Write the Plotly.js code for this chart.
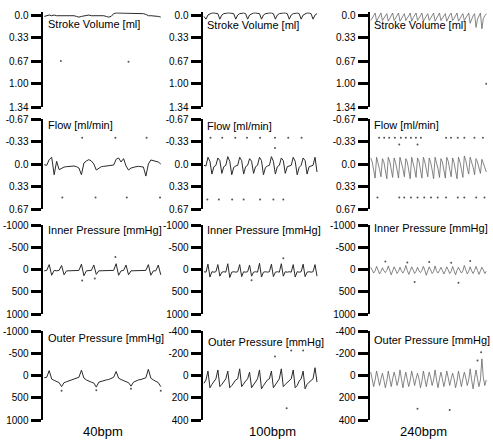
<!DOCTYPE html>
<html><head><meta charset="utf-8">
<script src="https://cdn.plot.ly/plotly-3.0.1.min.js"></script>
<style>html,body{margin:0;padding:0;background:#fff}#chart{width:493px;height:441px}</style>
</head><body><div id="chart"></div>
<script>
// ---------- labels ----------
const rowTitles = ['Stroke Volume [ml]', 'Flow [ml/min]', 'Inner Pressure [mmHg]', 'Outer Pressure [mmHg]'];
const colLabels = ['40bpm', '100bpm', '240bpm'];

// ---------- tick values / labels ----------
const svTickVals = [0, 0.33, 0.67, 1.00, 1.34];
const svTickText = ['0.0', '0.33', '0.67', '1.00', '1.34'];
const flowTickVals = [-0.67, -0.33, 0, 0.33, 0.67];
const flowTickText = ['-0.67', '-0.33', '0.0', '0.33', '0.67'];
const p1000TickVals = [-1000, -500, 0, 500, 1000];
const p1000TickText = ['-1000', '-500', '0', '500', '1000'];
const p400TickVals = [-400, -200, 0, 200, 400];
const p400TickText = ['-400', '-200', '0', '200', '400'];

// ---------- 40 bpm ----------
const sv40 = [0.02,0.01,0.0,0.01,0.0,0.01,0.01,0.0,0.01,0.01,0.0,0.01,0.01,0.02,0.03,0.02,0.01,0.01,0.0,0.01,0.01,0.0,0.01,0.01,0.01,0.02,0.03,0.02,-0.02,-0.03,-0.03,-0.02,-0.03,-0.03,-0.02,-0.03,-0.03,-0.02,-0.03,-0.03,-0.02,-0.01,0.01,0.01,0.01,0.01,0.02,0.03];
const flow40 = [0.01,0.02,-0.065,-0.1,0.16,-0.04,0.085,0.06,0.045,0.04,0.035,0.03,0.03,0.04,0.06,0.16,-0.015,-0.045,-0.065,-0.045,0.0,0.09,0.06,0.04,0.035,0.03,0.03,0.03,0.015,-0.07,-0.09,-0.03,-0.08,0.03,0.09,0.06,0.045,0.04,0.035,0.035,0.045,0.18,0.0,-0.06,-0.05,-0.045,-0.03,0.0];
const inner40 = [30,20,-110,130,20,30,20,-90,120,30,30,30,30,30,20,-120,140,30,30,20,-100,110,30,30,30,30,30,30,20,-130,130,30,20,-100,120,30,30,30,30,30,30,20,-110,130,30,30,-100,120];
const outer40 = [50,40,-110,80,110,140,160,250,160,140,120,100,90,70,40,-120,60,100,130,150,170,260,150,130,110,100,90,70,40,-90,60,90,120,140,160,240,150,120,100,90,70,50,-140,60,100,130,160,250];

const sv40StrayX = [6.7, 34];
const sv40StrayY = [0.67, 0.68];
const flow40StrayX = [15.3, 28.7, 41.3, 7.3, 20.7, 33.3, 46.7];
const flow40StrayY = [-0.39, -0.39, -0.39, 0.5, 0.5, 0.5, 0.5];
const inner40StrayX = [28.7, 15.3, 20.4];
const inner40StrayY = [-280, 250, 200];
const outer40StrayX = [7, 21, 35, 47];
const outer40StrayY = [340, 330, 300, 340];

// ---------- 100 bpm ----------
const sv100 = [0.02,0.06,0.0,-0.02,-0.03,-0.03,-0.03,-0.02,0.06,0.0,-0.02,-0.03,-0.03,-0.03,-0.03,-0.02,0.06,0.0,-0.02,-0.03,-0.03,-0.02,0.06,0.0,-0.02,-0.03,-0.03,-0.03,-0.02,0.06,0.0,-0.02,-0.03,-0.03,-0.03,-0.02,0.06,0.0,-0.02,-0.03,-0.03,-0.03,-0.02,0.06,0.0,-0.02,-0.03,-0.03,-0.02,0.06,0.0,-0.02,-0.03,-0.03,-0.02,0.06,0.0,-0.02];
const flow100 = [0.02,0.03,-0.1,-0.04,0.15,0.04,0.02,-0.09,-0.05,0.14,0.04,0.02,-0.11,-0.04,0.16,0.05,0.03,0.02,-0.1,-0.05,0.15,0.04,0.02,-0.08,-0.04,0.14,0.04,0.02,-0.1,-0.05,0.16,0.05,0.03,0.02,-0.11,-0.04,0.15,0.04,0.02,-0.09,-0.05,0.14,0.04,0.03,0.02,-0.1,-0.04,0.16,0.05,0.02,-0.09,-0.05,0.15,0.04,0.03,0.02,-0.1,0.12];
const inner100 = [50,60,-120,170,50,60,50,-110,150,60,50,60,-130,180,60,50,60,50,-110,160,50,60,50,-100,150,60,50,60,-140,170,60,50,60,50,-120,160,60,50,60,-130,150,50,60,50,60,-110,170,50,60,50,-120,160,60,50,60,50,-110,150];
const outer100 = [70,40,-40,110,80,50,30,-50,100,80,50,30,-40,110,90,60,40,30,-60,100,70,50,30,-30,110,80,50,30,-50,120,90,60,40,30,-40,110,80,50,30,-60,100,80,60,40,30,-50,110,90,50,30,-40,120,80,60,40,30,-70,60];

const sv100StrayX = [];
const sv100StrayY = [];
const flow100StrayX = [3.3, 9.2, 15.8, 21.7, 28.3, 35.8, 42.5, 49.2, 1.7, 7.5, 14.2, 20, 28.3, 35, 40, 35.8];
const flow100StrayY = [-0.39, -0.39, -0.39, -0.39, -0.39, -0.39, -0.39, -0.39, 0.53, 0.53, 0.53, 0.53, 0.53, 0.53, 0.53, -0.24];
const inner100StrayX = [24, 40];
const inner100StrayY = [240, -250];
const outer100StrayX = [41.7, 44, 50, 35.8];
const outer100StrayY = [295, -225, -225, -170];

// ---------- 240 bpm ----------
const sv240 = [0.08,0.05,0.01,-0.03,0.09,0.05,0.0,-0.03,0.08,0.04,0.01,-0.02,0.09,0.05,0.01,-0.03,0.08,0.04,0.0,-0.03,0.09,0.05,0.01,-0.02,0.08,0.05,0.01,-0.03,0.09,0.04,0.0,-0.03,0.08,0.05,0.01,-0.03,0.09,0.05,0.01,-0.02,0.08,0.04,0.0,-0.03,0.09,0.05,0.01,-0.03,0.08,0.05,0.01,-0.02,0.09,0.04,0.0,-0.03,0.08,0.05,0.01,-0.03,0.09,0.05,0.01,-0.02,0.08,0.04,0.0,-0.03,0.12,0.05,0.01,-0.02,0.18,0.06,0.0,-0.03,0.2,0.05,0.01,-0.02];
const flow240 = [-0.09,-0.03,0.09,0.21,-0.1,-0.02,0.08,0.19,-0.08,-0.03,0.1,0.22,-0.1,-0.04,0.08,0.2,-0.09,-0.02,0.09,0.21,-0.1,-0.03,0.07,0.19,-0.08,-0.03,0.09,0.22,-0.1,-0.02,0.08,0.2,-0.09,-0.04,0.1,0.21,-0.1,-0.03,0.08,0.19,-0.09,-0.02,0.09,0.22,-0.1,-0.03,0.07,0.2,-0.08,-0.03,0.09,0.21,-0.1,-0.04,0.08,0.19,-0.09,-0.02,0.1,0.22,-0.1,-0.03,0.08,0.2,-0.12,-0.05,0.06,0.15,-0.1,-0.04,0.05,0.16,-0.08,-0.03,0.06,0.14,-0.07,-0.02,0.05,0.12];
const inner240 = [-50,20,80,30,-70,10,100,40,-40,30,70,20,-80,20,120,30,-60,10,90,40,-50,30,80,20,-90,20,110,30,-60,10,90,40,-50,30,70,20,-70,20,130,30,-60,10,90,40,-80,30,80,20,-50,20,100,30,-60,10,90,40,-70,30,120,20,-50,20,80,30,-90,10,100,40,-60,30,90,20,-70,20,110,30,-50,10,90,40];
const outer240 = [-30,30,100,40,-40,20,90,30,-20,40,110,50,-40,30,100,30,-30,20,90,40,-50,30,110,30,-30,40,100,40,-40,20,90,30,-20,30,110,50,-40,30,100,30,-30,20,90,40,-50,40,110,30,-30,30,100,40,-40,20,90,30,-20,30,110,50,-40,30,100,30,-30,20,90,40,-60,40,120,30,-50,30,100,40,-150,20,90,40];

const sv240StrayX = [79];
const sv240StrayY = [1.0];
const flow240StrayX = [5.7, 9.2, 12.6, 16.5, 20.6, 24, 27.5, 30.9, 34.3, 51.5, 54.9, 59.5, 64, 70.9, 76.7, 19.5, 32, 4.6, 19.5, 22.9, 27.5, 32, 36.6, 41.2, 45.8, 51.5, 59.5, 64, 72.1, 77.8];
const flow240StrayY = [-0.39, -0.39, -0.39, -0.39, -0.39, -0.39, -0.39, -0.39, -0.39, -0.39, -0.39, -0.39, -0.39, -0.39, -0.39, -0.29, -0.29, 0.5, 0.5, 0.5, 0.5, 0.5, 0.5, 0.5, 0.5, 0.5, 0.5, 0.5, 0.5, 0.5];
const inner240StrayX = [10, 25, 40, 55, 68, 30, 60];
const inner240StrayY = [-180, -160, -170, -150, -190, 280, 300];
const outer240StrayX = [32, 54, 75.5, 73];
const outer240StrayY = [300, 310, -210, -135];

// ---------- assemble ----------
const W = 493, H = 441;
const panels = [
  [{y: sv40, sx: sv40StrayX, sy: sv40StrayY}, {y: sv100, sx: sv100StrayX, sy: sv100StrayY}, {y: sv240, sx: sv240StrayX, sy: sv240StrayY}],
  [{y: flow40, sx: flow40StrayX, sy: flow40StrayY}, {y: flow100, sx: flow100StrayX, sy: flow100StrayY}, {y: flow240, sx: flow240StrayX, sy: flow240StrayY}],
  [{y: inner40, sx: inner40StrayX, sy: inner40StrayY}, {y: inner100, sx: inner100StrayX, sy: inner100StrayY}, {y: inner240, sx: inner240StrayX, sy: inner240StrayY}],
  [{y: outer40, sx: outer40StrayX, sy: outer40StrayY}, {y: outer100, sx: outer100StrayX, sy: outer100StrayY}, {y: outer240, sx: outer240StrayX, sy: outer240StrayY}]
];
const colPx = [[43, 162], [203, 318], [370, 487]];
const rowPx = [[12.3, 107], [119, 209], [225, 314], [331, 420]];
const rowRanges = [[1.34, -0.04], [0.67, -0.67], [1000, -1000], null];
const titlePos = [
  [[46, 24], [205, 25], [372, 25]],
  [[46, 125], [205, 126], [372, 125]],
  [[46, 230], [205, 230], [372, 228]],
  [[46, 338], [206, 342], [372, 340]]
];
const labelPos = [[103, 431], [272, 431], [423, 431]];
const font = 'Liberation Sans, Arial, Helvetica, sans-serif';

const traces = [];
const layout = {
  width: W, height: H,
  margin: {l: 0, r: 0, t: 0, b: 0},
  paper_bgcolor: '#fff', plot_bgcolor: '#fff',
  showlegend: false,
  annotations: []
};

for (let r = 0; r < 4; r++) {
  for (let c = 0; c < 3; c++) {
    const k = r * 3 + c + 1;
    const xs = k === 1 ? 'x' : 'x' + k;
    const ys = k === 1 ? 'y' : 'y' + k;
    const p = panels[r][c];
    const n = p.y.length;
    traces.push({
      y: p.y, mode: 'lines', xaxis: xs, yaxis: ys, hoverinfo: 'skip',
      line: {color: c === 2 ? '#666' : '#2a2a2a', width: c === 2 ? 0.8 : 1}
    });
    if (p.sx.length) traces.push({
      x: p.sx, y: p.sy, mode: 'markers', xaxis: xs, yaxis: ys, hoverinfo: 'skip',
      marker: {size: 2, color: '#555'}
    });
    let yr, tv, tt;
    if (r === 0) { yr = rowRanges[0]; tv = svTickVals; tt = svTickText; }
    else if (r === 1) { yr = rowRanges[1]; tv = flowTickVals; tt = flowTickText; }
    else if (r === 2) { yr = rowRanges[2]; tv = p1000TickVals; tt = p1000TickText; }
    else if (c === 0) { yr = [1000, -1000]; tv = p1000TickVals; tt = p1000TickText; }
    else { yr = [400, -400]; tv = p400TickVals; tt = p400TickText; }
    layout[k === 1 ? 'xaxis' : 'xaxis' + k] = {
      domain: [colPx[c][0] / W, colPx[c][1] / W],
      range: [-0.5, n - 0.5], visible: false, anchor: ys, fixedrange: true
    };
    layout[k === 1 ? 'yaxis' : 'yaxis' + k] = {
      domain: [1 - rowPx[r][1] / H, 1 - rowPx[r][0] / H],
      range: yr, anchor: xs,
      showgrid: false, zeroline: false,
      showline: true, linecolor: '#000', linewidth: 2.5,
      ticks: 'outside', ticklen: 10, tickwidth: 3, tickcolor: '#000',
      tickmode: 'array', tickvals: tv, ticktext: tt,
      tickfont: {family: font, size: 10, color: '#000'}
    };
    layout.annotations.push({
      text: rowTitles[r], xref: 'paper', yref: 'paper',
      x: titlePos[r][c][0] / W, y: 1 - titlePos[r][c][1] / H,
      xanchor: 'left', yanchor: 'middle', showarrow: false,
      font: {family: font, size: 11, color: '#000'}
    });
  }
}
for (let c = 0; c < 3; c++) {
  layout.annotations.push({
    text: colLabels[c], xref: 'paper', yref: 'paper',
    x: labelPos[c][0] / W, y: 1 - labelPos[c][1] / H,
    xanchor: 'center', yanchor: 'middle', showarrow: false,
    font: {family: font, size: 13, color: '#000'}
  });
}

Plotly.newPlot('chart', traces, layout, {staticPlot: true, displayModeBar: false});
</script></body></html>
